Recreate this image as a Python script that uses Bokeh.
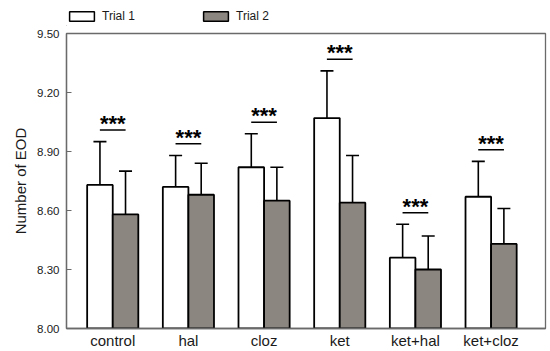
from bokeh.plotting import figure
from bokeh.layouts import column
from bokeh.models import (ColumnDataSource, Range1d, FixedTicker, Legend, LegendItem,
                          Whisker, TeeHead, NumeralTickFormatter)
from bokeh.core.properties import value
from bokeh.embed import file_html
from bokeh.resources import INLINE

groups = ["control", "hal", "cloz", "ket", "ket+hal", "ket+cloz"]
trial1 = [8.73, 8.72, 8.82, 9.07, 8.36, 8.67]
trial1_lo = [8.52, 8.56, 8.65, 8.83, 8.19, 8.49]
trial1_hi = [8.95, 8.88, 8.99, 9.31, 8.53, 8.85]
trial2 = [8.58, 8.68, 8.65, 8.64, 8.30, 8.43]
trial2_lo = [8.37, 8.52, 8.48, 8.40, 8.13, 8.25]
trial2_hi = [8.80, 8.84, 8.82, 8.88, 8.47, 8.61]
yticks = [8.00, 8.30, 8.60, 8.90, 9.20, 9.50]
signif = ["***", "***", "***", "***", "***", "***"]
series = ["Trial 1", "Trial 2"]

W = 0.338
FONT = "Liberation Sans"
TXT = "#1a1a1a"
AX = "#6a6a6a"
GRAY = "#8c8681"
WIDTH = 548
LH = 26
H = 325
TOP = 7
BOT = 23

xc = list(range(len(groups)))
x1 = [x - W / 2 for x in xc]
x2 = [x + W / 2 for x in xc]

src1 = ColumnDataSource(dict(x=x1, top=trial1, lo=trial1_lo, hi=trial1_hi))
src2 = ColumnDataSource(dict(x=x2, top=trial2, lo=trial2_lo, hi=trial2_hi))

p = figure(width=WIDTH, height=H, output_backend="svg", toolbar_location=None,
           x_range=Range1d(-0.611, 5.719), y_range=Range1d(8.0, 9.5),
           min_border_left=58, min_border_right=3, min_border_top=TOP, min_border_bottom=BOT)
p.background_fill_color = "white"
p.border_fill_color = "white"
p.outline_line_color = AX
p.outline_line_width = 1.3
p.grid.visible = False

p.vbar(x="x", top="top", bottom=8.0, width=W, source=src1,
       fill_color="white", line_color="black", line_width=1.8)
p.vbar(x="x", top="top", bottom=8.0, width=W, source=src2,
       fill_color=GRAY, line_color="black", line_width=1.8)

for src in (src1, src2):
    w = Whisker(base="x", upper="hi", lower="lo", source=src, line_color="black", line_width=1.6,
                upper_head=TeeHead(size=13, line_color="black", line_width=1.6),
                lower_head=TeeHead(size=13, line_color="black", line_width=1.6))
    p.add_layout(w)

# significance marks
maxhi = [max(a, b) for a, b in zip(trial1_hi, trial2_hi)]
star_src = ColumnDataSource(dict(x=xc, y=[m + 0.092 for m in maxhi], t=signif,
                                 ux0=[x - 0.17 for x in xc], ux1=[x + 0.17 for x in xc],
                                 uy=[m + 0.059 for m in maxhi]))
p.segment(x0="ux0", x1="ux1", y0="uy", y1="uy", source=star_src, line_color="black", line_width=1.5)
p.text(x="x", y="y", text="t", source=star_src, text_align="center", text_baseline="alphabetic",
       text_font=value(FONT), text_font_size="22px", text_font_style="bold", text_color="black")

# axes
xa = p.xaxis[0]
xa.ticker = FixedTicker(ticks=xc)
xa.major_label_overrides = {i: g for i, g in enumerate(groups)}
xa.major_tick_in = 0
xa.major_tick_out = 0
xa.minor_tick_line_color = None
xa.axis_line_color = AX
xa.axis_line_width = 1.3
xa.major_label_text_font = FONT
xa.major_label_text_font_size = "15px"
xa.major_label_text_color = TXT
xa.major_label_standoff = 3

ya = p.yaxis[0]
ya.ticker = FixedTicker(ticks=yticks)
ya.formatter = NumeralTickFormatter(format="0.00")
ya.major_tick_in = 5
ya.major_tick_out = 0
ya.major_tick_line_color = AX
ya.minor_tick_line_color = None
ya.axis_line_color = AX
ya.axis_line_width = 1.3
ya.major_label_text_font = FONT
ya.major_label_text_font_size = "11.5px"
ya.major_label_text_color = TXT
ya.major_label_standoff = 7
ya.axis_label = "Number of EOD"
ya.axis_label_text_font = FONT
ya.axis_label_text_font_size = "15px"
ya.axis_label_text_font_style = "normal"
ya.axis_label_text_color = TXT
ya.axis_label_standoff = 5

# legend strip above the chart (key renderers sit outside the visible range)
lg = figure(width=WIDTH, height=LH, output_backend="svg", toolbar_location=None,
            x_range=Range1d(0, 1), y_range=Range1d(0, 1),
            x_axis_location=None, y_axis_location=None,
            min_border_left=66, min_border_right=0, min_border_top=9, min_border_bottom=0)
lg.outline_line_color = None
lg.grid.visible = False
lg.background_fill_color = "white"
lg.border_fill_color = "white"
key = dict(x=[-5.0], top=[-5.0])
d1 = lg.vbar(x="x", top="top", bottom=-6.0, width=0.1, source=ColumnDataSource(key),
             fill_color="white", line_color="black", line_width=1.5)
d2 = lg.vbar(x="x", top="top", bottom=-6.0, width=0.1, source=ColumnDataSource(key),
             fill_color=GRAY, line_color="black", line_width=1.5)
legend = Legend(items=[LegendItem(label=series[0], renderers=[d1]),
                       LegendItem(label=series[1], renderers=[d2])],
                orientation="horizontal", location="top_left",
                glyph_width=31, glyph_height=12, label_standoff=5, label_width=98,
                spacing=0, padding=0, margin=0, label_height=12,
                label_text_font=FONT, label_text_font_size="12px", label_text_color=TXT,
                border_line_alpha=0, background_fill_alpha=0)
lg.add_layout(legend, "center")

layout = column(lg, p, spacing=0)
open("out.html", "w").write(file_html(layout, INLINE))
